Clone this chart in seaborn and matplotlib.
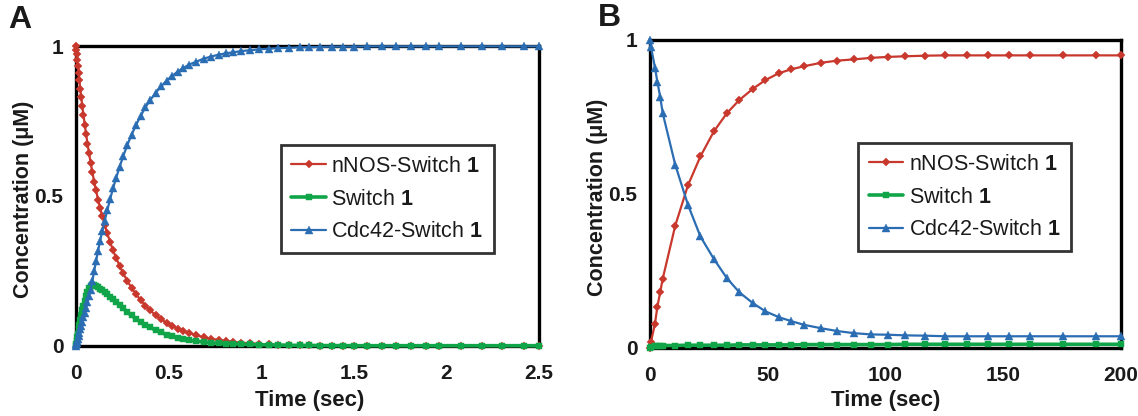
import matplotlib
matplotlib.use("Agg")
import matplotlib.pyplot as plt
import seaborn as sns
import pandas as pd

# ---------------- data: panel A ----------------
time_a = [0, 0.002, 0.004, 0.007, 0.010, 0.014, 0.018, 0.023, 0.028, 0.034,
          0.040, 0.047, 0.054, 0.062, 0.070, 0.079, 0.088, 0.098, 0.108, 0.119,
          0.130, 0.142, 0.155, 0.169, 0.184, 0.200, 0.217, 0.235, 0.255, 0.277,
          0.300, 0.325, 0.350, 0.375, 0.40, 0.43, 0.46, 0.49, 0.52, 0.55,
          0.58, 0.61, 0.65, 0.69, 0.73, 0.77, 0.81, 0.85, 0.89, 0.94,
          0.99, 1.04, 1.09, 1.15, 1.21, 1.26, 1.32, 1.38, 1.44, 1.50,
          1.57, 1.65, 1.73, 1.81, 1.89, 1.96, 2.08, 2.19, 2.30, 2.42, 2.50]
nnos_a = [1.000, 0.987, 0.973, 0.954, 0.935, 0.910, 0.887, 0.858, 0.831, 0.800,
          0.771, 0.738, 0.708, 0.675, 0.643, 0.611, 0.580, 0.548, 0.519, 0.488,
          0.460, 0.432, 0.403, 0.375, 0.347, 0.319, 0.293, 0.268, 0.242, 0.217,
          0.194, 0.172, 0.152, 0.134, 0.119, 0.103, 0.089, 0.077, 0.067, 0.058,
          0.050, 0.043, 0.036, 0.029, 0.024, 0.020, 0.016, 0.014, 0.011, 0.009,
          0.007, 0.005, 0.004, 0.003, 0.0024, 0.0019, 0.0014, 0.0010, 0.0008, 0.0006,
          0.0004, 0.0003, 0.0002, 0.0001, 0.0001, 0, 0, 0, 0, 0, 0]
switch_a = [0.000, 0.008, 0.017, 0.029, 0.041, 0.056, 0.070, 0.087, 0.102, 0.119,
            0.134, 0.151, 0.165, 0.180, 0.192, 0.201, 0.204, 0.202, 0.199, 0.195,
            0.190, 0.185, 0.179, 0.172, 0.164, 0.155, 0.146, 0.136, 0.125, 0.113,
            0.102, 0.090, 0.080, 0.070, 0.062, 0.053, 0.045, 0.038, 0.032, 0.027,
            0.023, 0.019, 0.016, 0.013, 0.011, 0.009, 0.008, 0.007, 0.006, 0.005,
            0.004, 0.0035, 0.003, 0.0025, 0.002, 0.002, 0.0015, 0.0013, 0.0012, 0.001,
            0.001, 0.001, 0.001, 0.001, 0.001, 0.001, 0.001, 0.001, 0.001, 0.001, 0.001]
cdc42_a = [0.000, 0.005, 0.010, 0.017, 0.024, 0.034, 0.043, 0.055, 0.067, 0.081,
           0.095, 0.111, 0.127, 0.145, 0.165, 0.188, 0.216, 0.250, 0.282, 0.317,
           0.350, 0.383, 0.418, 0.453, 0.489, 0.526, 0.561, 0.596, 0.633, 0.670,
           0.704, 0.738, 0.768, 0.796, 0.819, 0.844, 0.866, 0.885, 0.901, 0.915,
           0.927, 0.938, 0.948, 0.958, 0.965, 0.971, 0.976, 0.979, 0.983, 0.986,
           0.989, 0.991, 0.993, 0.994, 0.996, 0.996, 0.997, 0.998, 0.998, 0.998,
           0.999, 0.999, 0.999, 0.999, 0.999, 0.999, 0.999, 0.999, 0.999, 0.999, 0.999]

# ---------------- data: panel B ----------------
time_b = [0, 0.4, 2.1, 3.1, 4.3, 5.4, 10.7, 16.1, 21.4, 27.1, 32.6, 37.9, 43.6,
          49.0, 54.7, 60.0, 65.5, 72.7, 79.5, 86.7, 93.9, 101.0, 108.2, 116.6,
          125.4, 134.4, 143.4, 152.3, 161.3, 175.4, 189.4, 200.0]
nnos_b = [0.0, 0.02, 0.079, 0.133, 0.181, 0.225, 0.397, 0.528, 0.622, 0.703,
          0.762, 0.805, 0.841, 0.870, 0.892, 0.905, 0.915, 0.926, 0.933, 0.937,
          0.942, 0.945, 0.947, 0.949, 0.950, 0.950, 0.950, 0.950, 0.950, 0.950,
          0.950, 0.950]
switch_b = [0.0, 0.004, 0.006, 0.007, 0.007, 0.008, 0.008, 0.009, 0.009, 0.009,
            0.009, 0.010, 0.010, 0.010, 0.010, 0.010, 0.011, 0.011, 0.011, 0.011,
            0.011, 0.011, 0.012, 0.012, 0.012, 0.012, 0.012, 0.012, 0.012, 0.012,
            0.012, 0.012]
cdc42_b = [1.0, 0.978, 0.910, 0.865, 0.816, 0.762, 0.595, 0.465, 0.362, 0.289,
           0.227, 0.181, 0.146, 0.119, 0.100, 0.087, 0.075, 0.064, 0.055, 0.048,
           0.044, 0.043, 0.041, 0.040, 0.038, 0.038, 0.038, 0.038, 0.038, 0.038,
           0.038, 0.038]

series_names = ["nNOS-Switch $\\mathbf{1}$", "Switch $\\mathbf{1}$", "Cdc42-Switch $\\mathbf{1}$"]
xticks_a = [0, 0.5, 1, 1.5, 2, 2.5]
xticklabels_a = ["0", "0.5", "1", "1.5", "2", "2.5"]
xticks_b = [0, 50, 100, 150, 200]
xticklabels_b = ["0", "50", "100", "150", "200"]
yticks = [0, 0.5, 1]
yticklabels = ["0", "0.5", "1"]

# ---------------- style ----------------
sns.set_theme(style="white")
plt.rcParams["font.family"] = ["Liberation Sans", "DejaVu Sans"]
plt.rcParams["mathtext.fontset"] = "custom"
plt.rcParams["mathtext.rm"] = "Liberation Sans"
plt.rcParams["mathtext.bf"] = "Liberation Sans:bold"

RED = "#C8382D"
GREEN = "#10A548"
BLUE = "#2B6DB3"
colors = [RED, GREEN, BLUE]
markers = ["D", "s", "^"]
msizes = [4.2, 4.6, 6.4]
lwidths = [1.6, 2.6, 1.6]

fig = plt.figure(figsize=(11.38, 4.16), dpi=100)
ax_a = fig.add_axes([0.0668, 0.1683, 0.4068, 0.7211])
ax_b = fig.add_axes([0.5712, 0.1635, 0.4139, 0.7404])


def draw(ax, t, ys, xticks, xticklabels, xmax, leg_anchor):
    for y, name, c, m, ms, lw in zip(ys, series_names, colors, markers, msizes, lwidths):
        df = pd.DataFrame({"t": t, "c": y})
        sns.lineplot(data=df, x="t", y="c", ax=ax, color=c, marker=m,
                     markersize=ms, markeredgewidth=0.3, markeredgecolor=c,
                     linewidth=lw, label=name, estimator=None, sort=False,
                     clip_on=False, zorder=3)
    ax.set_xlim(0, xmax)
    ax.set_ylim(0, 1)
    ax.set_xticks(xticks)
    ax.set_xticklabels(xticklabels)
    ax.set_yticks(yticks)
    ax.set_yticklabels(yticklabels)
    for s in ax.spines.values():
        s.set_visible(True)
        s.set_color("black")
        s.set_linewidth(2.4)
        s.set_zorder(2)
    ax.tick_params(axis="both", direction="out", length=5, width=2,
                   color="black", labelsize=15, labelcolor="#1a1a1a")
    ax.tick_params(axis="x", pad=8)
    ax.tick_params(axis="y", pad=4)
    for lab in ax.get_xticklabels() + ax.get_yticklabels():
        lab.set_fontweight("bold")
    ax.set_xlabel("Time (sec)", fontsize=16, fontweight="bold", color="#1a1a1a")
    ax.set_ylabel("Concentration (μM)", fontsize=15.5, fontweight="bold", color="#1a1a1a")
    leg = ax.legend(loc="upper left", bbox_to_anchor=leg_anchor, frameon=True,
                    fancybox=False, fontsize=15.5, handlelength=1.6,
                    handletextpad=0.25, labelspacing=0.55, borderpad=0.5,
                    borderaxespad=0)
    leg.get_frame().set_edgecolor("black")
    leg.get_frame().set_linewidth(2.0)
    for txt in leg.get_texts():
        txt.set_color("#1a1a1a")


draw(ax_a, time_a, [nnos_a, switch_a, cdc42_a], xticks_a, xticklabels_a, 2.5, (0.442, 0.67))
draw(ax_b, time_b, [nnos_b, switch_b, cdc42_b], xticks_b, xticklabels_b, 200, (0.4416, 0.6656))

ax_a.xaxis.set_label_coords(0.505, -0.147)
ax_a.yaxis.set_label_coords(-0.09, 0.49)
ax_b.xaxis.set_label_coords(0.5, -0.136)
ax_b.yaxis.set_label_coords(-0.09, 0.49)

fig.text(20 / 1138, 1 - 20 / 416, "A", fontsize=23, fontweight="bold",
         ha="center", va="center", color="#1a1a1a")
fig.text(609 / 1138, 1 - 18 / 416, "B", fontsize=23, fontweight="bold",
         ha="center", va="center", color="#1a1a1a")

fig.savefig("out.png", dpi=100)
